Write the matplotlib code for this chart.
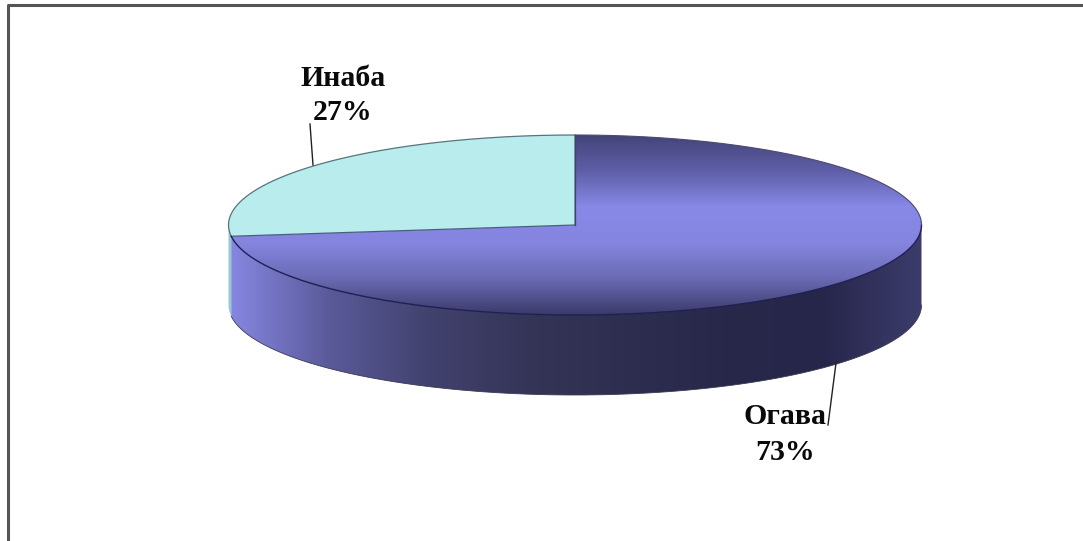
#Libraries importation:--------------------------------------------------------

import numpy as np
import matplotlib
matplotlib.use("Agg")
import matplotlib.pyplot as plt
from matplotlib.colors import LinearSegmentedColormap
from matplotlib.patches import Polygon

#Data:-------------------------------------------------------------------------

labels = ["Инаба","Огава"]
shares = [27,73]

top_colors = ["#44447a","#5f5fa8","#8888e8","#8585e0","#6a6ab4","#3a3a6a"]
side_colors = ["#8787e2","#5a5a9a","#42426f","#353558","#2e2e50","#28284a","#26264a","#3c3c6c"]
inaba_color = "#b9ecec"
inaba_side_color = "#98cad2"

#Pie geometry (pixels):--------------------------------------------------------

cx,cy = 575,225
rx,ry = 346.5,90
depth = 80

def rim(theta_from,theta_to,drop=0):
    theta = np.radians(np.linspace(theta_from,theta_to,300))
    return np.column_stack([cx+rx*np.cos(theta),cy-ry*np.sin(theta)+drop])

def sweep(theta_from,theta_to):
    return np.vstack([[cx,cy],rim(theta_from,theta_to)])

def side(theta_from,theta_to):
    return np.vstack([rim(theta_from,theta_to),rim(theta_to,theta_from,depth)])

inaba_end = 90+360*shares[0]/sum(shares)
ogava_end = 90+360

#Figure:-----------------------------------------------------------------------

fig = plt.figure(figsize=(10.83,5.41),dpi=100)
ax = fig.add_axes([0,0,1,1])
ax.axis("off")

top_cmap = LinearSegmentedColormap.from_list("top",top_colors)
side_cmap = LinearSegmentedColormap.from_list("side",side_colors)

# frame around the plot area, only top and left are drawn
ax.plot([8,8,1083],[541,5,5],color="#555555",lw=2.2,solid_capstyle="butt")

# inaba side sliver
ax.add_patch(Polygon(side(180,inaba_end),closed=True,fc=inaba_side_color,ec="none"))

# front wall, gradient clipped to the visible part
wall = Polygon(side(inaba_end,360),closed=True,fc="none",ec="none")
ax.add_patch(wall)
grad = np.linspace(0,1,256).reshape(1,-1)
img = ax.imshow(grad,extent=[cx-rx,cx+rx,cy+ry+depth,cy-ry],cmap=side_cmap,aspect="auto",zorder=2)
img.set_clip_path(wall)

# top face
ogava = Polygon(sweep(inaba_end,ogava_end),closed=True,fc="none",ec="none")
ax.add_patch(ogava)
grad = np.linspace(0,1,256).reshape(-1,1)
img = ax.imshow(grad,extent=[cx-rx,cx+rx,cy+ry,cy-ry],cmap=top_cmap,aspect="auto",zorder=3)
img.set_clip_path(ogava)

ax.add_patch(Polygon(sweep(90,inaba_end),closed=True,fc=inaba_color,ec="none",zorder=4))

# outlines
ax.plot(*sweep(90,inaba_end).T,color="#55757f",lw=0.9,zorder=5)
ax.plot(*np.vstack([[cx,cy],rim(inaba_end,inaba_end)]).T,color="#4a5f80",lw=0.9,zorder=5)
ax.plot([cx,cx],[cy,cy-ry],color="#444466",lw=0.9,zorder=5)
ax.plot(*rim(inaba_end,360).T,color="#1f1f55",lw=1.0,zorder=5)
ax.plot(*rim(0,90).T,color="#4a4a70",lw=0.8,zorder=5)
ax.plot(*rim(inaba_end,360,depth).T,color="#3a3a55",lw=0.6,zorder=5)

# labels and leader lines
font = dict(family="Liberation Serif",fontweight="bold",fontsize=21.5,ha="center",va="center",color="#0a0a0a")
ax.text(343,78,labels[0],**font)
ax.text(343,113,f"{shares[0]}%",**font)
ax.text(785,416,labels[1],**font)
ax.text(785,452,f"{shares[1]}%",**font)
ax.plot([310,313],[124,165],color="#222222",lw=1,zorder=6)
ax.plot([828,836],[425,363],color="#222222",lw=1,zorder=6)

ax.set_xlim(0,1083)
ax.set_ylim(541,0)

fig.savefig("out.png",dpi=100)
